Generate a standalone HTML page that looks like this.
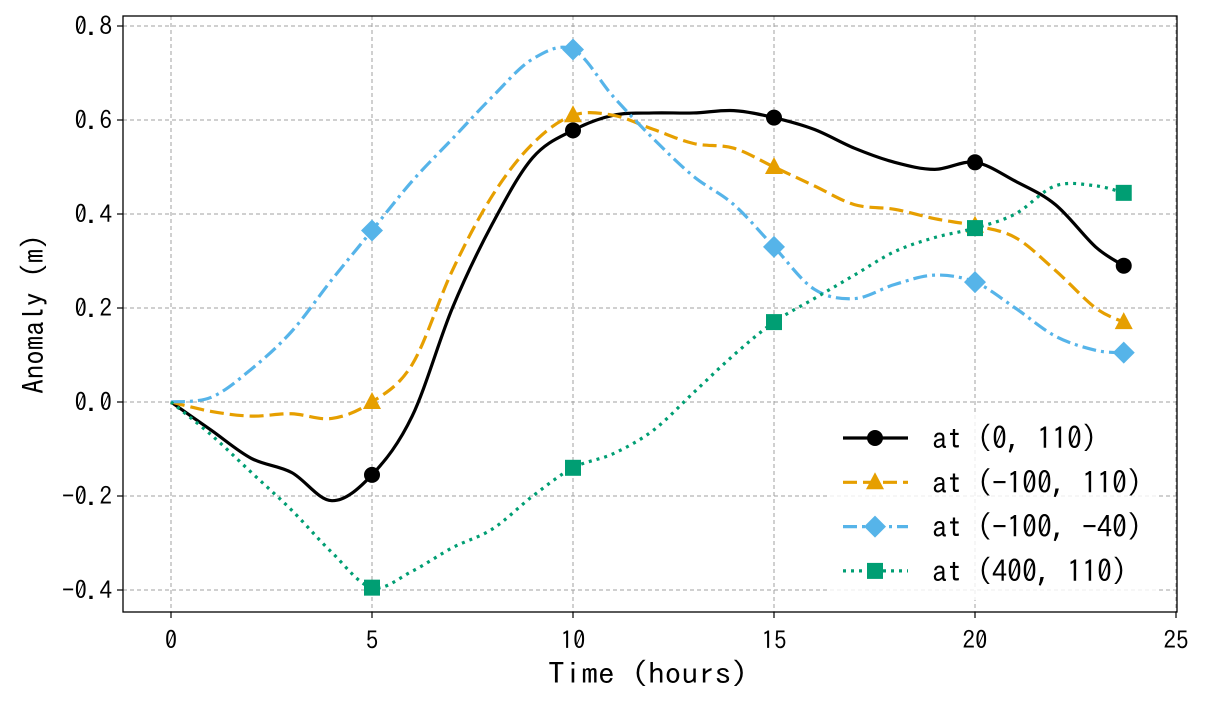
<!DOCTYPE html>
<html><head><meta charset="utf-8"><style>
html,body{margin:0;padding:0;background:#fff;}
svg text{font-family:"IPAGothic","Liberation Sans",sans-serif;fill:#000;}
</style></head><body>
<svg id="chart" width="1208" height="704" xmlns="http://www.w3.org/2000/svg"></svg>
<script>
const times = [0,1,2,3,4,5,6,7,8,9,10,11,12,13,14,15,16,17,18,19,20,21,22,23,23.7];
const seriesBlack = [0,-0.06,-0.12,-0.15,-0.21,-0.155,-0.03,0.2,0.38,0.52,0.578,0.61,0.615,0.615,0.62,0.605,0.58,0.54,0.51,0.495,0.51,0.47,0.42,0.33,0.29];
const seriesOrange = [0,-0.02,-0.03,-0.025,-0.035,0.0,0.08,0.28,0.44,0.55,0.61,0.61,0.58,0.55,0.54,0.5,0.46,0.42,0.41,0.39,0.375,0.35,0.28,0.2,0.17];
const seriesBlue = [0,0.01,0.07,0.15,0.26,0.365,0.47,0.56,0.65,0.73,0.75,0.65,0.56,0.48,0.42,0.33,0.24,0.22,0.25,0.27,0.255,0.2,0.14,0.11,0.105];
const seriesGreen = [0,-0.07,-0.15,-0.23,-0.32,-0.395,-0.36,-0.31,-0.27,-0.2,-0.14,-0.11,-0.06,0.02,0.1,0.17,0.22,0.27,0.32,0.35,0.37,0.4,0.46,0.46,0.445];
const markerIdx = [5,10,15,20,24];
const xTicks = [0,5,10,15,20,25];
const yTicks = [-0.4,-0.2,0.0,0.2,0.4,0.6,0.8];
const labels = ["at (0, 110)","at (-100, 110)","at (-100, -40)","at (400, 110)"];

const NS="http://www.w3.org/2000/svg";
const svg=document.getElementById('chart');
const L=123,R=1177,T=16,B=612;
const xs=t=>171+t*40.2;
const ys=v=>402-v*470;
function mk(tag,attrs,parent){const e=document.createElementNS(NS,tag);for(const k in attrs)e.setAttribute(k,attrs[k]);(parent||svg).appendChild(e);return e;}

xTicks.forEach(t=>{const x=xs(t);
 const g=mk('line',{x1:x,x2:x,y1:T,y2:B,stroke:'#a0a0a0','stroke-width':1,'stroke-dasharray':'4,3'});
 
 
 const tk=mk('line',{x1:x,x2:x,y1:B,y2:B+6,stroke:'#000','stroke-width':1.2});
 
 
 const tx=mk('text',{x:x,y:B+37,'text-anchor':'middle','font-size':25});tx.textContent=t;
 
 
});
yTicks.forEach(v=>{const y=ys(v);
 const g=mk('line',{x1:L,x2:R,y1:y,y2:y,stroke:'#a0a0a0','stroke-width':1,'stroke-dasharray':'4,3'});
 
 
 const tk=mk('line',{x1:L-6,x2:L,y1:y,y2:y,stroke:'#000','stroke-width':1.2});
 
 
 const tx=mk('text',{x:L-11,y:y+9,'text-anchor':'end','font-size':25});tx.textContent=(v<0?'\u2212':'')+Math.abs(v).toFixed(1);
 
 
});

function smooth(vals){
 const p=times.map((t,i)=>[xs(t),ys(vals[i])]);
 let d='M'+p[0][0]+','+p[0][1];
 for(let i=0;i<p.length-1;i++){
  const p0=p[i-1]||p[i],p1=p[i],p2=p[i+1],p3=p[i+2]||p2;
  const c1=[p1[0]+(p2[0]-p0[0])/6,p1[1]+(p2[1]-p0[1])/6];
  const c2=[p2[0]-(p3[0]-p1[0])/6,p2[1]-(p3[1]-p1[1])/6];
  d+=' C'+c1+' '+c2+' '+p2;
 }
 return d;
}
function marker(type,x,y,color,name){
 let e;
 if(type==='circle')e=mk('circle',{cx:x,cy:y,r:8,fill:color});
 else if(type==='tri')e=mk('polygon',{points:`${x},${y-10} ${x-9},${y+7} ${x+9},${y+7}`,fill:color});
 else if(type==='diamond')e=mk('polygon',{points:`${x},${y-11} ${x+11},${y} ${x},${y+11} ${x-11},${y}`,fill:color});
 else e=mk('rect',{x:x-8,y:y-8,width:16,height:16,fill:color});
 
 
}
const series=[
 {v:seriesBlack,c:'#000000',dash:'',m:'circle',n:'black'},
 {v:seriesOrange,c:'#E69F00',dash:'14,6',m:'tri',n:'orange'},
 {v:seriesBlue,c:'#56B4E9',dash:'14,5,3,5',m:'diamond',n:'blue'},
 {v:seriesGreen,c:'#009E73',dash:'3,5',m:'square',n:'green'}
];
series.forEach(s=>{
 const p=mk('path',{d:smooth(s.v),fill:'none',stroke:s.c,'stroke-width':3.2,'stroke-dasharray':s.dash});
 
 
 markerIdx.forEach(i=>marker(s.m,xs(times[i]),ys(s.v[i]),s.c,'marker-'+s.n));
});
const fr=mk('rect',{x:L,y:T,width:R-L,height:B-T,fill:'none',stroke:'#000','stroke-width':1.3});


const xt=mk('text',{x:548,y:684,'font-size':29,textLength:200,lengthAdjust:'spacingAndGlyphs'});xt.textContent='Time (hours)';


const yt=mk('text',{x:0,y:0,'text-anchor':'middle','font-size':29,transform:'translate(44,314) rotate(-90)'});yt.textContent='Anomaly (m)';


const lg=mk('rect',{x:828,y:415,width:330,height:185,fill:'#fff','fill-opacity':0.8});


series.forEach((s,i)=>{
 const y=438+i*44.3;
 const l=mk('line',{x1:843,x2:908,y1:y,y2:y,stroke:s.c,'stroke-width':3.2,'stroke-dasharray':s.dash});
 
 
 marker(s.m,875,y,s.c,'legend-marker');
 const t=mk('text',{x:932,y:y+11,'font-size':30});t.textContent=labels[i].replace(/-/g,'\u2212');
 
 
});
</script>
</body></html>
